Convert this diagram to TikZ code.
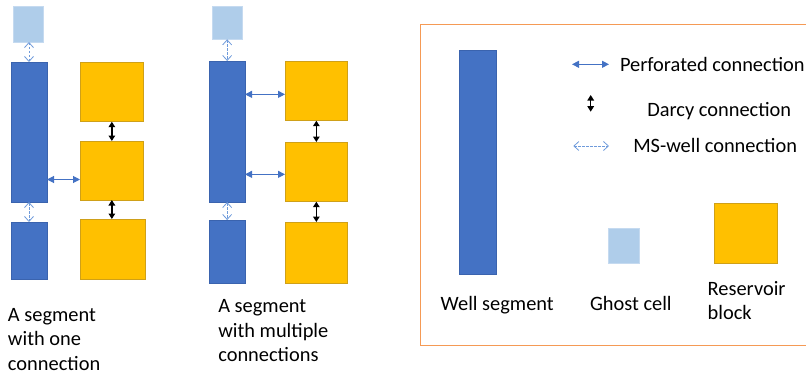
\documentclass[tikz,border=0pt]{standalone}
\usepackage{fontspec}
\setmainfont{Carlito}
\usetikzlibrary{arrows.meta}
\definecolor{wellblue}{HTML}{4472C4}
\definecolor{welledge}{HTML}{3A63AE}
\definecolor{ghostblue}{HTML}{AFCDEA}
\definecolor{ghostedge}{HTML}{C5DAF0}
\definecolor{resgold}{HTML}{FFC000}
\definecolor{resedge}{HTML}{CFA018}
\definecolor{frameorange}{HTML}{F59A55}
\definecolor{msblue}{HTML}{6F9BDB}
\tikzset{
  box/.style={inner sep=0pt, outer sep=0pt, anchor=north west},
  wellseg/.style={box, fill=wellblue, draw=welledge, line width=0.8pt},
  ghostcell/.style={box, fill=ghostblue, draw=ghostedge, line width=0.6pt},
  resblock/.style={box, fill=resgold, draw=resedge, line width=0.8pt},
  perf/.style={draw=wellblue, line width=1.1pt, {Triangle[length=7pt,width=7pt]}-{Triangle[length=7pt,width=7pt]}},
  darcy/.style={draw=black, line width=1.5pt, {Triangle[length=5.5pt,width=6.5pt]}-{Triangle[length=5.5pt,width=6.5pt]}},
  mswell/.style={draw=msblue, line width=0.8pt, dash pattern=on 2.5pt off 1.5pt, {Straight Barb[length=5pt,width=9pt,line width=0.8pt]}-{Straight Barb[length=5pt,width=9pt,line width=0.8pt]}},
  label/.style={inner sep=0pt, outer sep=0pt, anchor=base west, align=left, font=\fontsize{20.4}{24.5}\selectfont}
}
\begin{document}
\begin{tikzpicture}[x=1pt, y=-1pt]
\useasboundingbox (0,0) rectangle (806,375);
\clip (0,0) rectangle (806,375);

% ---- segment with one connection ----
\node[ghostcell, minimum width=30pt, minimum height=36pt] (g1) at (13,6) {};
\node[wellseg, minimum width=36pt, minimum height=140pt] (w1) at (11,62) {};
\node[wellseg, minimum width=36pt, minimum height=57pt] (w1b) at (11,222) {};
\node[resblock, minimum width=63.7pt, minimum height=59.7pt] (r1a) at (80,62) {};
\node[resblock, minimum width=63.7pt, minimum height=59pt] (r1b) at (80,141) {};
\node[resblock, minimum width=65.7pt, minimum height=60pt] (r1c) at (80,219) {};

\draw[mswell] (w1.north |- g1.south) -- (w1.north);
\draw[mswell] (w1.south) -- (w1b.north);
\coordinate (p1) at ([yshift=-9pt]r1b.west);
\draw[perf] (w1.east |- p1) -- (p1);
\draw[darcy] (r1a.south) -- (r1b.north);
\draw[darcy] (r1b.south) -- (r1b.south |- r1c.north);

% multi-line labels: the base point is the baseline of the last line
\node[label] (t1) at (8,370) {A segment\\with one\\connection};

% ---- segment with multiple connections ----
\node[ghostcell, minimum width=30.3pt, minimum height=33.3pt] (g2) at (212,6) {};
\node[wellseg, minimum width=35.7pt, minimum height=141pt] (w2) at (209.3,61) {};
\node[wellseg, minimum width=35.7pt, minimum height=63pt] (w2b) at (209.3,220) {};
\node[resblock, minimum width=62.7pt, minimum height=59.7pt] (r2a) at (285,61) {};
\node[resblock, minimum width=62.7pt, minimum height=59.7pt] (r2b) at (285,142) {};
\node[resblock, minimum width=62.7pt, minimum height=61pt] (r2c) at (285,222) {};

\draw[mswell] (w2.north |- g2.south) -- (w2.north);
\draw[mswell] (w2.south) -- (w2b.north);
\coordinate (p2) at ([yshift=-3.5pt]r2a.west);
\coordinate (p3) at ([yshift=-2.5pt]r2b.west);
\draw[perf] (w2.east |- p2) -- (p2);
\draw[perf] (w2.east |- p3) -- (p3);
\draw[darcy] (r2a.south) -- (r2b.north);
\draw[darcy] (r2b.south) -- (r2c.north);

\node[label] (t2) at (218.3,361.7) {A segment\\with multiple\\connections};

% ---- legend ----
\draw[frameorange, line width=1.2pt] (420.5,24.5) rectangle (812,345.5);

\node[wellseg, minimum width=37pt, minimum height=224.3pt] (lw) at (459.3,50) {};
\node[ghostcell, minimum width=30.7pt, minimum height=35pt] (lg) at (608.3,228.7) {};
\node[resblock, minimum width=63.4pt, minimum height=60.4pt] (lr) at (714.3,203.3) {};

\node[label] (tw) at (440.7,310) {Well segment};
\node[label] (tg) at (590,310) {Ghost cell};
\node[label] (tr) at (707.7,319.5) {Reservoir\\block};

\coordinate (pa) at (572,64.3);
\coordinate (pb) at (609,64.3);
\draw[perf] (pa) -- (pb);
\node[label] (tp) at (620,71) {Perforated connection};

\coordinate (da) at (590.7,95);
\coordinate (db) at (590.7,111.7);
\draw[darcy] (da) -- (db);
\node[label] (td) at (647.3,116) {Darcy connection};

\coordinate (ma) at (573.3,146);
\coordinate (mb) at (609,146);
\draw[mswell] (ma) -- (mb);
\node[label] (tm) at (633.3,152.7) {MS-well connection};
\end{tikzpicture}
\end{document}
